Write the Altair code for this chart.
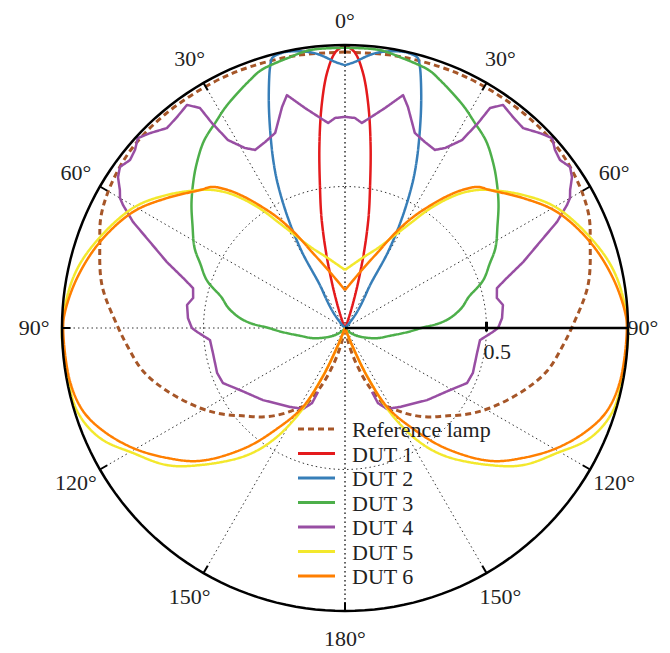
import altair as alt
import pandas as pd
import numpy as np

# ---------------- data (right half; the plot is mirrored about 0-180 deg) ----------------
series_names = ["Reference lamp", "DUT 1", "DUT 2", "DUT 3", "DUT 4", "DUT 5", "DUT 6"]
series_colors = ["#a65628", "#e41a1c", "#377eb8", "#4daf4a", "#984ea3", "#f3e82c", "#ff7f00"]
series_dash = [[6, 4], [1, 0], [1, 0], [1, 0], [1, 0], [1, 0], [1, 0]]

ref_angle = [0, 10, 20, 28.5, 40, 49.5, 57.5, 65, 70.7, 80, 89.2, 95, 102, 109.5, 118.9, 125,
             131.3, 137, 142.4, 147, 152.5, 158, 163, 167, 172]
ref_r = [0.975, 0.978, 0.982, 0.985, 0.987, 0.985, 0.972, 0.95, 0.918, 0.872, 0.806, 0.77, 0.73,
         0.667, 0.585, 0.53, 0.471, 0.43, 0.388, 0.35, 0.307, 0.217, 0.122, 0.047, 0.0]

dut1_angle = [0, 2, 4, 6, 8, 10, 12, 14, 16, 18, 20, 23, 27]
dut1_r = [1.0, 0.975, 0.905, 0.79, 0.65, 0.51, 0.40, 0.28, 0.17, 0.09, 0.04, 0.01, 0.0]

dut2_angle = [0, 2, 4.2, 6, 7.8, 10, 12.3, 14, 15.1, 16, 17, 19, 21.5, 23.5, 25.1, 27.4, 29.5,
              30.3, 33, 37, 42, 45]
dut2_r = [0.929, 0.94, 0.96, 0.975, 0.985, 0.993, 0.998, 0.995, 0.988, 0.96, 0.917, 0.826, 0.714,
          0.63, 0.558, 0.438, 0.309, 0.176, 0.12, 0.07, 0.02, 0.0]

dut3_angle = [0, 7, 12, 18, 21, 28, 32, 37, 42, 46, 51, 56, 62, 66, 71, 76, 80, 84, 87, 90,
              93.6, 100, 107, 114, 122, 130, 140, 150]
dut3_r = [0.99, 0.99, 0.975, 0.958, 0.938, 0.89, 0.86, 0.828, 0.783, 0.745, 0.698, 0.65, 0.602,
          0.56, 0.516, 0.45, 0.42, 0.38, 0.336, 0.27, 0.223, 0.16, 0.122, 0.085, 0.054, 0.03,
          0.01, 0.0]

dut4_angle = [0, 2.7, 4.7, 6.3, 10.3, 14.0, 15.9, 19.7, 23.3, 26.8, 29.1, 31.9, 33.0, 33.4, 35.3,
              38.5, 41.7, 45.0, 47.5, 49.7, 52.0, 54.4, 56.4, 58.5, 60.0, 61.0, 63.4, 66.2, 69.7,
              72.8, 75.3, 78.8, 81.7, 86.4, 90.0, 91.5, 95.1, 100.7, 109.4, 114.3, 120.6, 131.3,
              145.1, 152.6, 156.3, 157.1]
dut4_r = [0.746, 0.743, 0.727, 0.743, 0.790, 0.848, 0.812, 0.732, 0.715, 0.705, 0.728, 0.782,
          0.864, 0.931, 0.966, 0.953, 0.946, 0.974, 0.993, 0.973, 0.964, 0.978, 0.963, 0.933,
          0.918, 0.897, 0.838, 0.753, 0.671, 0.599, 0.555, 0.547, 0.564, 0.556, 0.541, 0.523,
          0.479, 0.475, 0.479, 0.473, 0.431, 0.386, 0.340, 0.322, 0.290, 0.245]

dut5_angle = [0, 13.7, 22.4, 28.3, 32.3, 35.1, 38.0, 40.9, 43.9, 46.4, 53.2, 60.5, 71.8, 79.6, 90,
              96.7, 107.2, 114.2, 120.5, 127.6, 133.4, 142, 147.1, 151.6, 155, 158, 162]
dut5_r = [0.205, 0.254, 0.306, 0.373, 0.443, 0.510, 0.574, 0.631, 0.677, 0.707, 0.785, 0.861,
          0.937, 0.977, 1.0, 0.996, 0.991, 0.949, 0.870, 0.794, 0.705, 0.574, 0.475, 0.349, 0.2,
          0.07, 0.0]

dut6_angle = [0, 16.3, 23.5, 27.8, 31.3, 34.4, 37.4, 40.3, 43.3, 46.4, 53.9, 61.3, 70.7, 79.4,
              86.7, 90, 100.9, 107.6, 113, 119.5, 126.1, 132.5, 140.2, 146.2, 151.7, 155.3, 157.6,
              160]
dut6_r = [0.134, 0.214, 0.293, 0.379, 0.455, 0.518, 0.582, 0.639, 0.685, 0.707, 0.779, 0.854,
          0.918, 0.963, 0.991, 0.996, 0.990, 0.971, 0.929, 0.861, 0.779, 0.695, 0.552, 0.425,
          0.321, 0.194, 0.065, 0.0]

tick_angles = [0, 30, 60, 90, 120, 150, 180]
tick_labels = ["0°", "30°", "60°", "90°", "120°", "150°", "180°"]
radial_ticks = [0.5]
radial_labels = ["0.5"]

# ---------------- tables ----------------
curves = [
    ("Reference lamp", ref_angle, ref_r),
    ("DUT 1", dut1_angle, dut1_r),
    ("DUT 2", dut2_angle, dut2_r),
    ("DUT 3", dut3_angle, dut3_r),
    ("DUT 4", dut4_angle, dut4_r),
    ("DUT 5", dut5_angle, dut5_r),
    ("DUT 6", dut6_angle, dut6_r),
]
rows = []
for name, angs, rs in curves:
    for side in (1, -1):
        for a, r in zip(angs, rs):
            rows.append({"series": name, "side": side, "angle": a, "r": r})
df = pd.DataFrame(rows)

circ_angles = list(range(0, 361, 2))
circle_df = pd.DataFrame(
    [{"ring": ring, "angle": a, "r": ring} for ring in (0.5, 1.0) for a in circ_angles]
)

spoke_df = pd.DataFrame(
    [{"angle": a, "side": s} for a in tick_angles for s in (1, -1)
     if not (a == 90 and s == 1)]
)
outer_tick_df = pd.DataFrame([{"angle": a, "side": s} for a in tick_angles for s in (1, -1)])
label_df = pd.DataFrame(
    [{"angle": a, "side": s, "label": l} for a, l in zip(tick_angles, tick_labels)
     for s in ((1,) if a in (0, 180) else (1, -1))]
)
rad_df = pd.DataFrame({"r": radial_ticks, "label": radial_labels})
legend_df = pd.DataFrame({"series": series_names, "idx": list(range(len(series_names)))})

# ---------------- geometry ----------------
W, H = 654, 642
CX, CY, RPX = 345 - 8, 328 - 8, 283.0
x_dom = [-CX / RPX, (W - CX) / RPX]
y_dom = [-(H - CY) / RPX, CY / RPX]
xs = alt.Scale(domain=x_dom, nice=False, zero=False)
ys = alt.Scale(domain=y_dom, nice=False, zero=False)


def px_x(p):  # page pixel -> data x
    return (p - 345) / RPX


def px_y(p):  # page pixel -> data y
    return (328 - p) / RPX


deg = "PI/180"
FONT = "Liberation Serif"
TXT = "#222222"

color_enc = alt.Color("series:N", scale=alt.Scale(domain=series_names, range=series_colors),
                      legend=None)
dash_enc = alt.StrokeDash("series:N", scale=alt.Scale(domain=series_names, range=series_dash),
                          legend=None)

# grid spokes (dotted)
spokes = alt.Chart(spoke_df).transform_calculate(
    x0="0", y0="0",
    x1=f"datum.side*sin(datum.angle*{deg})",
    y1=f"cos(datum.angle*{deg})",
).mark_rule(color="#333333", strokeWidth=1, strokeDash=[1.5, 3]).encode(
    x=alt.X("x0:Q", scale=xs, axis=None), y=alt.Y("y0:Q", scale=ys, axis=None),
    x2="x1:Q", y2="y1:Q",
)

inner_ring = alt.Chart(circle_df).transform_filter("datum.ring == 0.5").transform_calculate(
    x=f"datum.r*sin(datum.angle*{deg})", y=f"datum.r*cos(datum.angle*{deg})"
).mark_line(color="#333333", strokeWidth=1, strokeDash=[1.5, 3]).encode(
    x=alt.X("x:Q", scale=xs, axis=None), y=alt.Y("y:Q", scale=ys, axis=None),
    order="angle:Q",
)

curve_layers = []
for name in series_names:
    width = 3 if name == "Reference lamp" else 2.5
    interp = "linear" if name == "DUT 4" else "catmull-rom"
    layer = alt.Chart(df).transform_filter(alt.datum.series == name).transform_calculate(
        x=f"datum.side*datum.r*sin(datum.angle*{deg})",
        y=f"datum.r*cos(datum.angle*{deg})",
    ).mark_line(strokeWidth=width, strokeJoin="round", interpolate=interp).encode(
        x=alt.X("x:Q", scale=xs, axis=None), y=alt.Y("y:Q", scale=ys, axis=None),
        color=color_enc, strokeDash=dash_enc,
        detail="side:N", order="angle:Q",
    )
    curve_layers.append(layer)

outer_ring = alt.Chart(circle_df).transform_filter("datum.ring == 1").transform_calculate(
    x=f"datum.r*sin(datum.angle*{deg})", y=f"datum.r*cos(datum.angle*{deg})"
).mark_line(color="black", strokeWidth=2.5).encode(
    x=alt.X("x:Q", scale=xs, axis=None), y=alt.Y("y:Q", scale=ys, axis=None),
    order="angle:Q",
)

outer_ticks = alt.Chart(outer_tick_df).transform_calculate(
    x0=f"0.97*datum.side*sin(datum.angle*{deg})", y0=f"0.97*cos(datum.angle*{deg})",
    x1=f"datum.side*sin(datum.angle*{deg})", y1=f"cos(datum.angle*{deg})",
).mark_rule(color="black", strokeWidth=2).encode(
    x=alt.X("x0:Q", scale=xs, axis=None), y=alt.Y("y0:Q", scale=ys, axis=None),
    x2="x1:Q", y2="y1:Q",
)

radial_axis = alt.Chart(pd.DataFrame({"x0": [0.0], "x1": [1.0], "y0": [0.0]})).mark_rule(
    color="black", strokeWidth=2.5
).encode(
    x=alt.X("x0:Q", scale=xs, axis=None), x2="x1:Q", y=alt.Y("y0:Q", scale=ys, axis=None),
)

radial_tick = alt.Chart(rad_df).transform_calculate(
    ya="-0.012", yb="0.022"
).mark_rule(color="black", strokeWidth=3).encode(
    x=alt.X("r:Q", scale=xs, axis=None), y=alt.Y("ya:Q", scale=ys, axis=None), y2="yb:Q",
)

radial_text = alt.Chart(rad_df).transform_calculate(yt="-0.085").mark_text(
    font=FONT, fontSize=22, align="left", baseline="middle", dx=-3, color=TXT
).encode(
    x=alt.X("r:Q", scale=xs, axis=None), y=alt.Y("yt:Q", scale=ys, axis=None), text="label:N",
)

# angle labels; the top and right-hand 90° labels are pulled in a little so they stay on the page
angle_text = alt.Chart(label_df).transform_calculate(
    rr="datum.angle == 0 ? 1.085 : 1.098",
).transform_calculate(
    x=f"datum.rr*datum.side*sin(datum.angle*{deg}) - (datum.angle == 90 && datum.side == 1 ? 0.045 : 0)",
    y=f"datum.rr*cos(datum.angle*{deg})",
).mark_text(font=FONT, fontSize=22, align="center", baseline="middle", color=TXT).encode(
    x=alt.X("x:Q", scale=xs, axis=None), y=alt.Y("y:Q", scale=ys, axis=None), text="label:N",
)

# legend (drawn inside the plot)
LX0, LX1, LTX = px_x(298), px_x(335), px_x(352)
LY0, LDY = px_y(429), 24.5 / RPX
legend_lines = alt.Chart(legend_df).transform_calculate(
    lx0=f"{LX0}", lx1=f"{LX1}", ly=f"{LY0} - datum.idx*{LDY}"
).mark_rule(strokeWidth=3).encode(
    x=alt.X("lx0:Q", scale=xs, axis=None), x2="lx1:Q",
    y=alt.Y("ly:Q", scale=ys, axis=None),
    color=color_enc, strokeDash=dash_enc,
)
legend_text = alt.Chart(legend_df).transform_calculate(
    lx=f"{LTX}", ly=f"{LY0} - datum.idx*{LDY}"
).mark_text(font=FONT, fontSize=22, align="left", baseline="middle", color=TXT, dy=1).encode(
    x=alt.X("lx:Q", scale=xs, axis=None), y=alt.Y("ly:Q", scale=ys, axis=None),
    text="series:N",
)

chart = alt.layer(
    spokes, inner_ring, *curve_layers, outer_ring, outer_ticks, radial_axis, radial_tick,
    radial_text, angle_text, legend_lines, legend_text,
).properties(
    width=W, height=H, padding=0, autosize=alt.AutoSizeParams(type="none"),
).configure_view(stroke=None)

chart.save("out.html", embed_options={"renderer": "svg", "actions": False})
